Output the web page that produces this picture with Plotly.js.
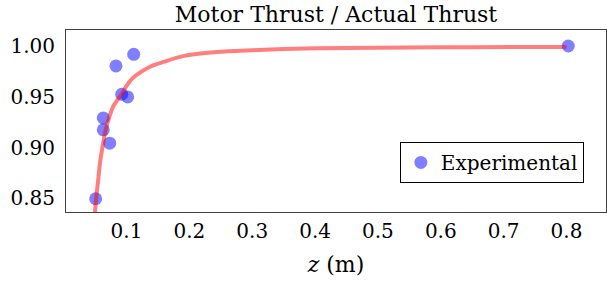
<!DOCTYPE html>
<html>
<head>
<meta charset="utf-8">
<script src="https://cdn.plot.ly/plotly-3.0.1.min.js"></script>
<style>html,body{margin:0;padding:0;background:#fff;}#chart{width:607px;height:287px;}</style>
</head>
<body>
<div id="chart"></div>
<script>
// Experimental measurements (z in m, ratio motor thrust / actual thrust)
const expZ     = [0.051, 0.0631, 0.0631, 0.0733, 0.0833, 0.0924, 0.1019, 0.1115, 0.8028];
const expRatio = [0.8495, 0.9294, 0.9176, 0.9044, 0.9808, 0.9528, 0.9501, 0.9923, 1.0005];

// Model curve
const modelZ     = [0.0495, 0.0515, 0.055, 0.0578, 0.062, 0.0669, 0.073, 0.08, 0.0924, 0.10, 0.108, 0.1162, 0.1374, 0.16, 0.19, 0.2435, 0.3, 0.35, 0.45, 0.55, 0.65, 0.8];
const modelRatio = [0.832, 0.8485, 0.868, 0.8847, 0.901, 0.9176, 0.931, 0.942, 0.953, 0.961, 0.9675, 0.9719, 0.980, 0.985, 0.9905, 0.9945, 0.9963, 0.9975, 0.9986, 0.999, 0.9993, 0.9995];

const xTicks = [0.1, 0.2, 0.3, 0.4, 0.5, 0.6, 0.7, 0.8];
const xTickText = ["0.1", "0.2", "0.3", "0.4", "0.5", "0.6", "0.7", "0.8"];
const yTicks = [0.85, 0.90, 0.95, 1.00];
const yTickText = ["0.85", "0.90", "0.95", "1.00"];

const FONT = "DejaVu Serif";

const traces = [
  {
    x: expZ, y: expRatio, type: "scatter", mode: "markers", name: "Experimental",
    marker: {color: "rgba(0,0,255,0.5)", size: 13, line: {width: 0}},
    showlegend: true
  },
  {
    x: modelZ, y: modelRatio, type: "scatter", mode: "lines", name: "Model",
    line: {color: "rgba(255,0,0,0.5)", width: 4, shape: "spline", smoothing: 0.8},
    showlegend: false
  }
];

const layout = {
  width: 607, height: 287,
  margin: {l: 66, r: 1, t: 30, b: 75, pad: 0},
  paper_bgcolor: "#fff", plot_bgcolor: "#fff",
  font: {family: FONT, size: 20, color: "#000"},
  title: {text: "Motor Thrust / Actual Thrust", font: {family: FONT, size: 22, color: "#000"},
          x: 0.5, xref: "paper", y: 1 - 14/287, yref: "container", yanchor: "middle"},
  xaxis: {
    range: [0.0038, 0.8628], tickvals: xTicks, ticktext: xTickText,
    showgrid: false, zeroline: false, ticks: "", showline: true, mirror: true,
    linecolor: "#404040", linewidth: 1, ticklabelstandoff: 1,
    tickfont: {family: FONT, size: 20, color: "#000"},
    title: {text: "<i>z</i> (m)", font: {family: FONT, size: 22, color: "#000"}, standoff: 14}
  },
  yaxis: {
    range: [0.8364, 1.0163], tickvals: yTicks, ticktext: yTickText,
    showgrid: false, zeroline: false, ticks: "", showline: true, mirror: true,
    linecolor: "#404040", linewidth: 1, ticklabelstandoff: 6,
    tickfont: {family: FONT, size: 20, color: "#000"}
  },
  legend: {
    x: 0.959, xanchor: "right", y: 0.385, yanchor: "top",
    bgcolor: "#fff", bordercolor: "#000", borderwidth: 1,
    font: {family: FONT, size: 20, color: "#000"}, itemwidth: 30
  }
};

Plotly.newPlot("chart", traces, layout, {displayModeBar: false, staticPlot: true});
</script>
</body>
</html>
